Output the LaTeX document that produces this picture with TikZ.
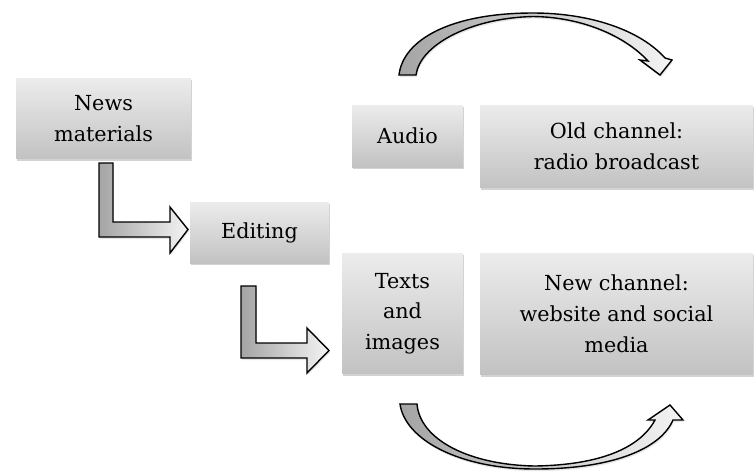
\documentclass[tikz,border=0pt]{standalone}
\usepackage{fontspec}
\setmainfont{DejaVu Serif}
\usetikzlibrary{shadows}
\definecolor{boxtop}{HTML}{ECECEC}
\definecolor{boxbot}{HTML}{C2C2C2}
\definecolor{arrdark}{HTML}{A4A4A4}
\definecolor{arrlight}{HTML}{F4F4F4}

\tikzset{
  greybox/.style={rectangle, top color=boxtop, bottom color=boxbot, align=center,
    inner sep=0pt, font=\fontsize{11.8}{17.5}\selectfont,
    drop shadow={shadow xshift=0.6pt, shadow yshift=-1.3pt, opacity=0.35}},
  blockarrow/.style={draw=black, line width=0.8pt, line join=miter,
    left color=arrdark, right color=arrlight,
    drop shadow={shadow xshift=0.5pt, shadow yshift=-1.2pt, opacity=0.2}}
}

\begin{document}
\begin{tikzpicture}[x=0.02cm,y=-0.02cm]
  \useasboundingbox (0,0) rectangle (755,471);

  \node[greybox, minimum width=3.5cm, minimum height=1.62cm] (news) at (103.5,118.5) {News\\materials};
  \node[greybox, minimum width=2.78cm, minimum height=1.22cm] (editing) at (259.5,232.5) {Editing};
  \node[greybox, minimum width=2.22cm, minimum height=1.24cm] (audio) at (407.5,136) {Audio};
  \node[greybox, minimum width=5.46cm, minimum height=1.66cm] (oldch) at (616.5,146.5) {Old channel:\\radio broadcast};
  \node[greybox, minimum width=2.42cm, minimum height=2.42cm] (texts) at (402.5,313.5) {Texts\\and\\images};
  \node[greybox, minimum width=5.46cm, minimum height=2.44cm] (newch) at (616.5,314) {New channel:\\website and social\\media};

  \path[blockarrow] (99,163) -- (113,163) -- (113,222) -- (170,222) -- (170,207) -- (188,229.5)
    -- (170,253) -- (170,237) -- (99,237) -- cycle;
  \path[blockarrow] (241,286) -- (256,286) -- (256,343) -- (307,343) -- (307,328) -- (329,350.5)
    -- (307,373) -- (307,358) -- (241,358) -- cycle;

  \path[blockarrow] (399,75) .. controls (403,40) and (450,13) .. (533,13)
    .. controls (590,13) and (640,30) .. (665,58) -- (672,60) -- (660,75) -- (640,60) -- (648,61)
    .. controls (625,36) and (582,17) .. (533,16.5) .. controls (470,18) and (420,45) .. (416,75) -- cycle;
  \path[blockarrow] (400,404) .. controls (405,440) and (460,469) .. (535,469)
    .. controls (610,469) and (660,450) .. (673,420) -- (683,420) -- (670,405) -- (648,420) -- (655,420)
    .. controls (640,448) and (600,465) .. (535,466) .. controls (470,465) and (420,440) .. (417,404) -- cycle;
\end{tikzpicture}
\end{document}
